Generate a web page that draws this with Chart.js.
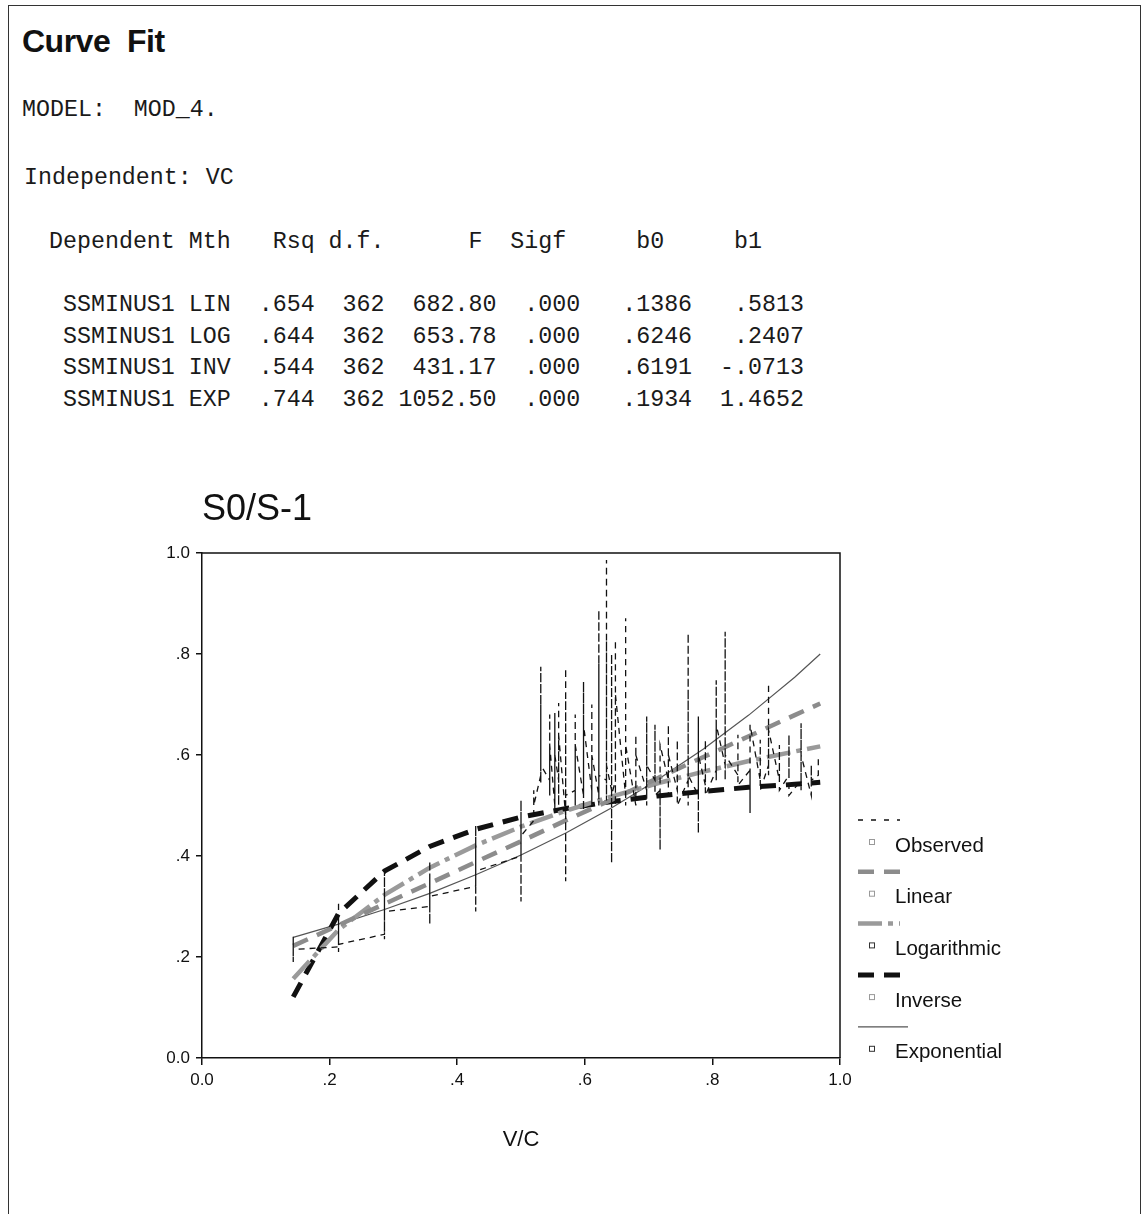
<!DOCTYPE html>
<html>
<head>
<meta charset="utf-8">
<script src="https://cdn.jsdelivr.net/npm/chart.js@4.4.0/dist/chart.umd.min.js"></script>
<style>
body { margin:0; background:#fff; width:1144px; height:1214px; position:relative; overflow:hidden; }
#frame { position:absolute; left:8px; top:5px; width:1131px; height:1260px; border:1.5px solid #333; border-bottom:none; }
.t { position:absolute; white-space:pre; color:#1a1a1a; }
.mono { font-family:"Liberation Mono", monospace; font-size:23.3px; line-height:1; }
#head { left:22px; top:25px; font-family:"Liberation Sans", Arial, sans-serif; font-weight:bold; font-size:32px; line-height:1; letter-spacing:-0.5px; color:#111; }
#chartBox { position:absolute; left:0; top:440px; width:1144px; height:760px; }
</style>
</head>
<body>
<div id="frame"></div>
<div class="t" id="head">Curve  Fit</div>
<div class="t mono" style="left:22px;top:99px">MODEL:  MOD_4.</div>
<div class="t mono" style="left:24px;top:167px">Independent: VC</div>
<div class="t mono" style="left:49px;top:231px">Dependent Mth   Rsq d.f.      F  Sigf     b0     b1</div>
<div class="t mono" style="left:49px;top:294px"> SSMINUS1 LIN  .654  362  682.80  .000   .1386   .5813</div>
<div class="t mono" style="left:49px;top:326px"> SSMINUS1 LOG  .644  362  653.78  .000   .6246   .2407</div>
<div class="t mono" style="left:49px;top:357px"> SSMINUS1 INV  .544  362  431.17  .000   .6191  -.0713</div>
<div class="t mono" style="left:49px;top:389px"> SSMINUS1 EXP  .744  362 1052.50  .000   .1934  1.4652</div>
<div id="chartBox"><canvas id="myChart" width="1144" height="760"></canvas></div>
<script>
// fitted curves, read at the observed V/C steps
const fitX = [0.143, 0.214, 0.286, 0.357, 0.429, 0.5, 0.571, 0.643, 0.714, 0.786, 0.857, 0.929, 0.969];
const linearY = [0.222, 0.263, 0.305, 0.346, 0.388, 0.429, 0.471, 0.512, 0.554, 0.596, 0.637, 0.679, 0.702];
const logY = [0.157, 0.254, 0.323, 0.377, 0.421, 0.458, 0.490, 0.518, 0.544, 0.567, 0.588, 0.607, 0.617];
const inverseY = [0.121, 0.286, 0.370, 0.419, 0.453, 0.477, 0.494, 0.508, 0.519, 0.528, 0.536, 0.542, 0.546];
const expY = [0.239, 0.265, 0.294, 0.326, 0.363, 0.402, 0.446, 0.496, 0.551, 0.612, 0.679, 0.754, 0.800];

// observed values, grouped by V/C
const obsX = [0.143, 0.214, 0.286, 0.357, 0.429, 0.5, 0.52, 0.531, 0.545, 0.553, 0.559, 0.57, 0.585, 0.598,
  0.611, 0.622, 0.634, 0.642, 0.648, 0.664, 0.68, 0.697, 0.71, 0.718, 0.731, 0.745, 0.762, 0.778, 0.789,
  0.806, 0.82, 0.84, 0.859, 0.875, 0.888, 0.905, 0.92, 0.939, 0.955, 0.966];
const obsY = [
  [0.235, 0.19, 0.225, 0.24, 0.215],
  [0.22, 0.31, 0.21, 0.28, 0.225],
  [0.245, 0.37, 0.235, 0.32, 0.29],
  [0.30, 0.39, 0.265, 0.36, 0.32],
  [0.34, 0.46, 0.29, 0.43, 0.37],
  [0.40, 0.51, 0.31, 0.48, 0.44],
  [0.47, 0.53, 0.50],
  [0.56, 0.775, 0.545, 0.70, 0.58],
  [0.55, 0.68, 0.52, 0.62],
  [0.50, 0.683, 0.49, 0.60],
  [0.55, 0.703, 0.50, 0.64],
  [0.48, 0.772, 0.35, 0.72, 0.52],
  [0.53, 0.68, 0.50, 0.62],
  [0.52, 0.745, 0.49, 0.66],
  [0.53, 0.70, 0.50, 0.60],
  [0.52, 0.887, 0.50, 0.78, 0.56],
  [0.55, 0.986, 0.51, 0.84, 0.58],
  [0.53, 0.80, 0.386, 0.70, 0.52],
  [0.55, 0.828, 0.50, 0.72],
  [0.52, 0.871, 0.50, 0.62],
  [0.50, 0.64, 0.52, 0.60],
  [0.53, 0.676, 0.50, 0.58],
  [0.55, 0.66, 0.52],
  [0.53, 0.412, 0.56, 0.62],
  [0.55, 0.66, 0.52, 0.60],
  [0.53, 0.63, 0.50],
  [0.55, 0.841, 0.50, 0.72, 0.56],
  [0.52, 0.676, 0.445, 0.60],
  [0.54, 0.63, 0.52],
  [0.57, 0.748, 0.55, 0.66],
  [0.58, 0.844, 0.55, 0.70, 0.60],
  [0.56, 0.64, 0.54],
  [0.57, 0.485, 0.60, 0.66],
  [0.55, 0.63, 0.53],
  [0.58, 0.742, 0.56, 0.65],
  [0.55, 0.62, 0.53],
  [0.56, 0.64, 0.52],
  [0.55, 0.663, 0.53, 0.60],
  [0.52, 0.58, 0.55],
  [0.56, 0.596, 0.58]
];

const tickLabels = ['0.0', '.2', '.4', '.6', '.8', '1.0'];
const seriesNames = ['Observed', 'Linear', 'Logarithmic', 'Inverse', 'Exponential'];

function pts(xs, ys) {
  return xs.map(function (x, i) { return { x: x, y: ys[i] }; });
}
const observed = [];
obsX.forEach(function (x, i) {
  obsY[i].forEach(function (y) { observed.push({ x: x, y: y }); });
});

const styles = [
  { color: '#111', width: 1.3, dash: [6, 5] },
  { color: '#8c8c8c', width: 4.5, dash: [16, 10] },
  { color: '#9a9a9a', width: 4.5, dash: [24, 6, 5, 6] },
  { color: '#111', width: 5, dash: [16, 10] },
  { color: '#555', width: 1.2, dash: [] }
];
const seriesData = [observed, pts(fitX, linearY), pts(fitX, logY), pts(fitX, inverseY), pts(fitX, expY)];

const FONT = '"Liberation Sans", Arial, sans-serif';

const extras = {
  id: 'extras',
  afterDraw(chart) {
    const ctx = chart.ctx, a = chart.chartArea;
    ctx.save();
    ctx.strokeStyle = '#111';
    ctx.lineWidth = 1.5;
    ctx.setLineDash([]);
    ctx.beginPath();
    ctx.moveTo(a.left, a.top);
    ctx.lineTo(a.right, a.top);
    ctx.lineTo(a.right, a.bottom);
    ctx.stroke();

    ctx.fillStyle = '#111';
    ctx.font = '36px ' + FONT;
    ctx.textBaseline = 'alphabetic';
    ctx.fillText('S0/S-1', a.left, 80);

    // legend: line sample, then marker + label
    ctx.font = '20.5px ' + FONT;
    ctx.textBaseline = 'middle';
    seriesNames.forEach(function (name, i) {
      const s = styles[i];
      const ly = 380 + i * 51.7;
      ctx.strokeStyle = s.color;
      ctx.lineWidth = s.width;
      ctx.setLineDash(i === 0 ? [5, 8] : s.dash);
      ctx.beginPath();
      ctx.moveTo(858, ly);
      ctx.lineTo(i === 4 ? 908 : 900, ly);
      ctx.stroke();
      ctx.setLineDash([]);
      ctx.lineWidth = 1;
      ctx.strokeStyle = (i === 2 || i === 4) ? '#333' : '#999';
      ctx.strokeRect(869.5, ly + 19.5, 5, 5);
      ctx.fillStyle = '#111';
      ctx.fillText(name, 895, ly + 26);
    });
    ctx.restore();
  }
};

const config = {
  type: 'line',
  data: {
    datasets: seriesNames.map(function (name, i) {
      return {
        label: name,
        data: seriesData[i],
        borderColor: styles[i].color,
        borderWidth: styles[i].width,
        borderDash: styles[i].dash,
        pointRadius: 0,
        fill: false,
        tension: 0,
        order: i
      };
    })
  },
  options: {
    responsive: false,
    animation: false,
    layout: { padding: { left: 100, right: 304, top: 113, bottom: 47 } },
    plugins: { legend: { display: false }, tooltip: { enabled: false } },
    scales: {
      x: {
        type: 'linear',
        min: 0,
        max: 1,
        ticks: {
          stepSize: 0.2,
          color: '#111',
          font: { size: 17, family: FONT },
          padding: 5,
          maxRotation: 0,
          callback: function (v) { return tickLabels[Math.round(v * 5)]; }
        },
        grid: { drawOnChartArea: false, drawTicks: true, tickLength: 7, color: '#111', lineWidth: 1.5 },
        border: { display: true, color: '#111', width: 1.5 },
        title: { display: true, text: 'V/C', color: '#111', font: { size: 22, family: FONT }, padding: 0 },
        afterFit: function (s) { s.height = 95; }
      },
      y: {
        min: 0,
        max: 1,
        ticks: {
          stepSize: 0.2,
          color: '#111',
          font: { size: 17, family: FONT },
          padding: 6,
          callback: function (v) { return tickLabels[Math.round(v * 5)]; }
        },
        grid: { drawOnChartArea: false, drawTicks: true, tickLength: 6, color: '#111', lineWidth: 1.5 },
        border: { display: true, color: '#111', width: 1.5 },
        afterFit: function (s) { s.width = 102; }
      }
    }
  },
  plugins: [extras]
};

let myChart = new Chart(document.getElementById('myChart'), config);
</script>
</body>
</html>
